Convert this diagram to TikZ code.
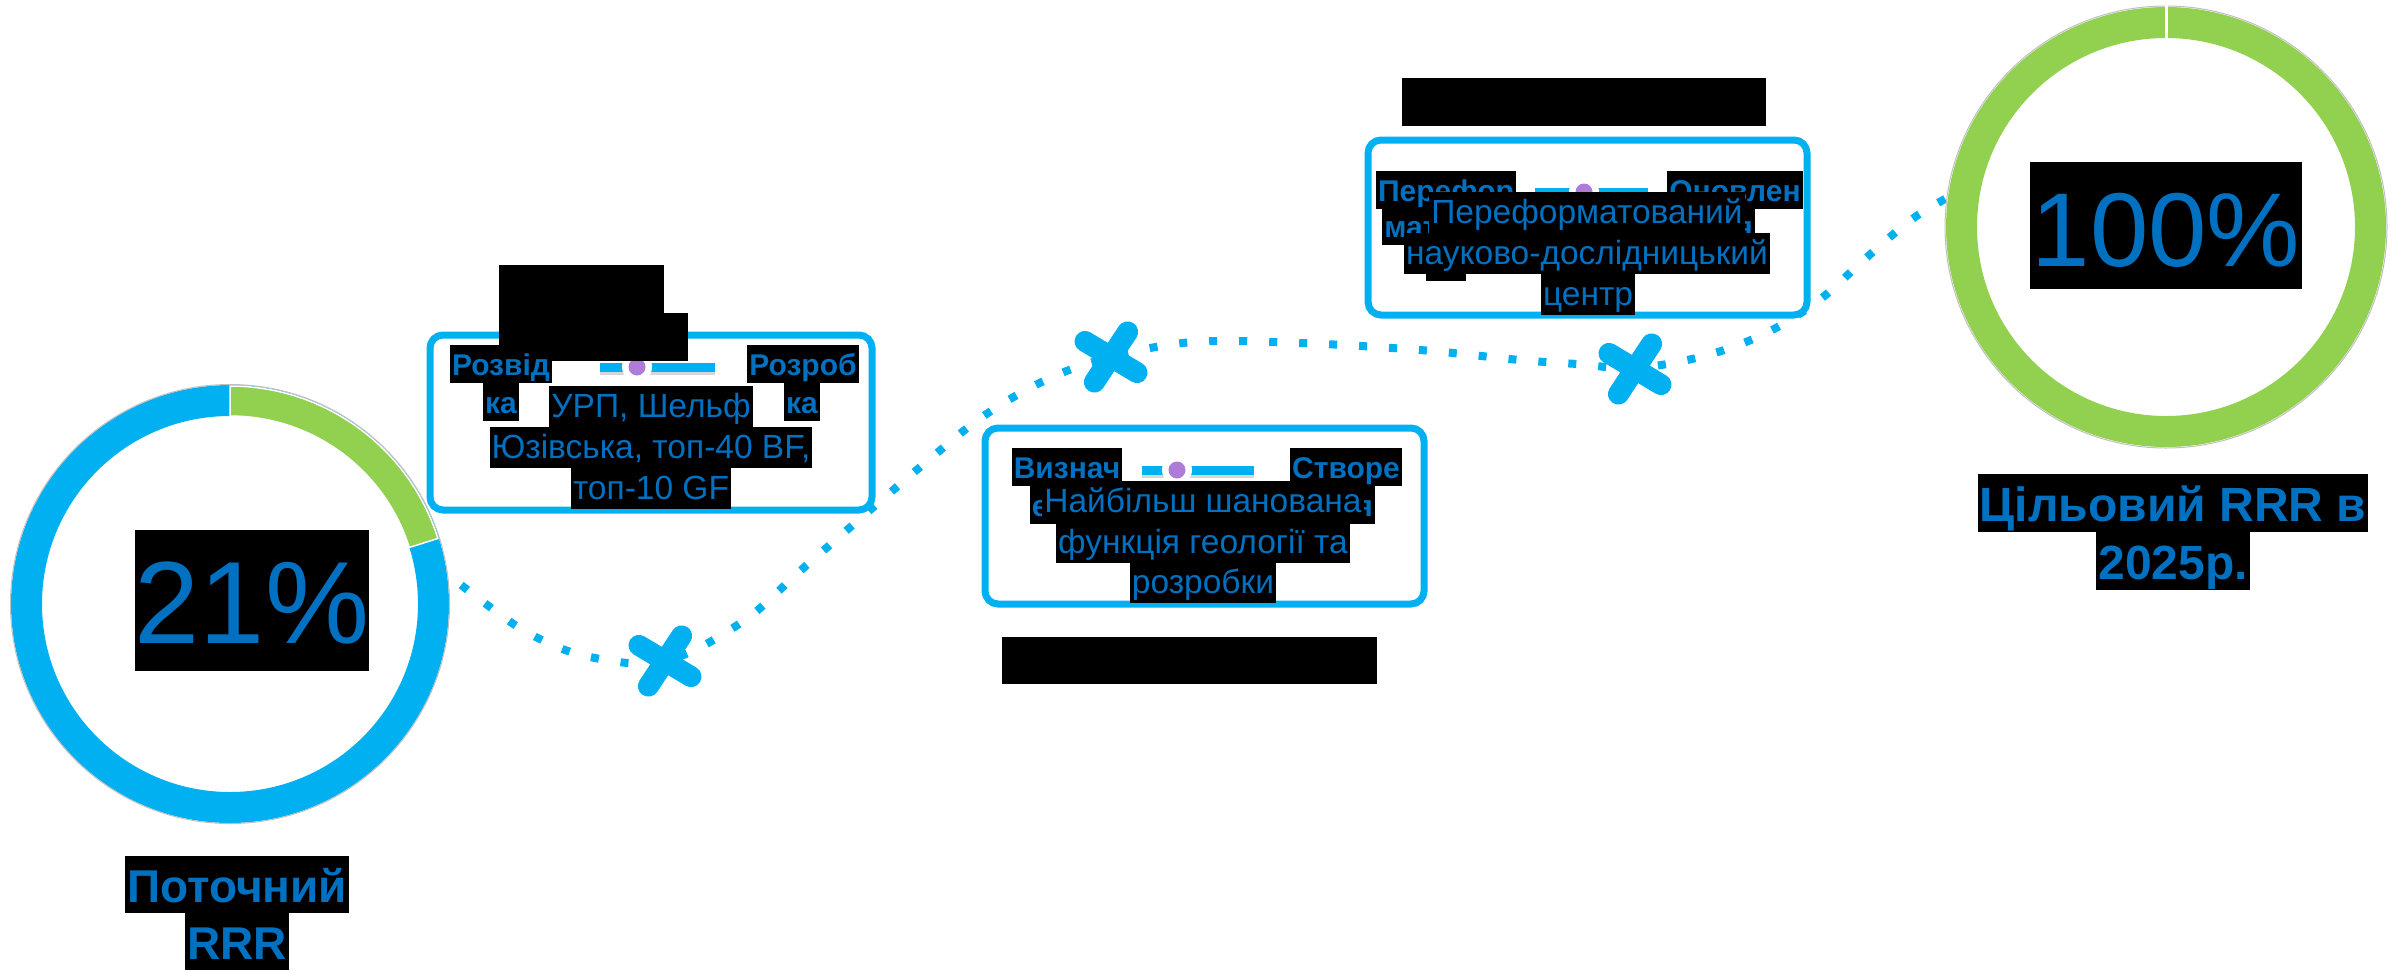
\documentclass[tikz,border=0pt]{standalone}
\usepackage{fontspec}
\setmainfont{Liberation Sans}
\definecolor{cyanline}{HTML}{00B0F0}
\definecolor{textblue}{HTML}{0070C0}
\definecolor{ringgreen}{HTML}{92D050}
\definecolor{knob}{HTML}{AE7BD6}
\definecolor{rimgray}{HTML}{BFBFBF}

% slider track: #1 left end, #2 right end, #3 knob x, #4 y
\newcommand\knobtrack[4]{%
  \draw[trackshadow] (#1,#4+5) -- (#2,#4+5);
  \draw[trackbar] (#1,#4) -- (#2,#4);
  \fill[white] (#3,#4) circle[radius=15pt];
  \fill[knob] (#3,#4) circle[radius=8.5pt];
}

\tikzset{
  hl/.style={fill=black, text=textblue, inner xsep=2pt, inner ysep=0pt, anchor=north},
  body/.style={hl, font=\fontsize{33.5pt}{33.5pt}\selectfont, text height=31pt, text depth=10pt},
  key/.style={hl, font=\bfseries\fontsize{30pt}{30pt}\selectfont, text height=30pt, text depth=8pt},
  caption/.style={hl, font=\bfseries\fontsize{46pt}{46pt}\selectfont, text height=46pt, text depth=11pt},
  captionr/.style={hl, font=\bfseries\fontsize{48pt}{48pt}\selectfont, text height=47pt, text depth=11pt},
  stagebox/.style={draw=cyanline, fill=white, line width=7pt, rounded corners=13pt},
  route/.style={cyanline, line width=8pt, line cap=butt, dash pattern=on 8pt off 22pt},
  xstroke/.style={cyanline, line width=21pt, line cap=round},
  trackbar/.style={cyanline, line width=9pt, line cap=butt},
  trackshadow/.style={black!45, opacity=0.35, line width=6pt},
  crossout/.pic={
    \draw[xstroke] (-26,-15.6) -- (26,15.6);
    \draw[xstroke] (-16.6,25.1) -- (16.6,-25.1);
  }
}

\begin{document}
\begin{tikzpicture}[x=1pt,y=-1pt]
\useasboundingbox (0,0) rectangle (2405,970);
\fill[white] (0,0) rectangle (2405,970);

% dotted route from the current value to the target
\draw[route] plot[smooth, tension=0.6] coordinates {
  (438,566) (478,598) (530,634) (590,657) (665,661) (742,622) (800,571)
  (862,517) (925,463) (985,415) (1050,378) (1112,357) (1193,342) (1300,343)
  (1420,350) (1520,360) (1577,364) (1635,368) (1704,356) (1764,334)
  (1818,301) (1866,258) (1915,217) (1962,190)};

% crossed-out points along the route
\pic (cross1) at (665,661) {crossout};
\pic (cross2) at (1111,357) {crossout};
\pic (cross3) at (1635,369) {crossout};

% current RRR ring
\coordinate (L) at (230,604);
\fill[cyanline, even odd rule] (L) circle[radius=219pt] (L) circle[radius=188pt];
\fill[ringgreen, draw=white, line width=1.5pt]
  (L) ++(90:218pt) arc[start angle=90, end angle=17.5, radius=218pt]
  -- ++(197.5:30pt) arc[start angle=17.5, end angle=90, radius=188pt] -- cycle;
\draw[rimgray, line width=1pt] (L) circle[radius=219.5pt];

% target RRR ring
\coordinate (R) at (2166,227);
\fill[ringgreen, even odd rule] (R) circle[radius=220pt] (R) circle[radius=189pt];
\draw[rimgray, line width=1pt] (R) circle[radius=221pt];
\draw[white, line width=3pt] (2166,5) -- (2166,40);

% stage boxes
\draw[stagebox] (430,335) rectangle (872,510);
\draw[stagebox] (985,428) rectangle (1424,604);
\draw[stagebox] (1368,140) rectangle (1807,315);

% sliders
\knobtrack{600}{715}{637}{367}
\knobtrack{1142}{1254}{1177}{470}
\knobtrack{1535}{1648}{1584}{192}

% stage titles
\fill[black] (499,265) rectangle (664,313);
\fill[black] (499,313) rectangle (688,361);
\fill[black] (1002,637) rectangle (1377,684);
\fill[black] (1402,78) rectangle (1766,126);

% stage 1
\node[key] (s1l1) at (501,345) {Розвід};
\node[key] (s1l2) at (501,383) {ка};
\node[key] (s1r1) at (803,345) {Розроб};
\node[key] (s1r2) at (802,383) {ка};
\node[body] (s1t1) at (651,386) {УРП, Шельф};
\node[body] (s1t2) at (651,427) {Юзівська, топ-40 BF,};
\node[body] (s1t3) at (651,468) {топ-10 GF};

% stage 2
\node[key] (s2l1) at (1067,448) {Визнач};
\node[key] (s2l2) at (1067,486) {ення};
\node[key] (s2r1) at (1346,448) {Створе};
\node[key] (s2r2) at (1346,486) {ння};
\node[body] (s2t1) at (1203,481) {Найбільш шанована};
\node[body] (s2t2) at (1203,522) {функція геології та};
\node[body] (s2t3) at (1203,562) {розробки};

% stage 3
\node[key] (s3l1) at (1446,171) {Перефор};
\node[key] (s3l2) at (1446,207) {матуван};
\node[key] (s3l3) at (1446,243) {ня};
\node[key] (s3r1) at (1735,171) {Оновлен};
\node[key] (s3r2) at (1735,207) {ня};
\node[body] (s3t1) at (1587,192) {Переформатований};
\node[body] (s3t2) at (1587,233) {науково-дослідницький};
\node[body] (s3t3) at (1588,274) {центр};

% ring values and captions
\node[hl, inner xsep=0pt, font=\fontsize{117pt}{117pt}\selectfont,
      text height=113pt, text depth=28pt] (cur) at (252,530) {21\%};
\node[hl, inner xsep=2pt, font=\fontsize{105pt}{105pt}\selectfont,
      text height=104pt, text depth=23pt] (tgt) at (2166,162) {100\%};
\node[caption] (curcap1) at (237,856) {Поточний};
\node[caption] (curcap2) at (237,913) {RRR};
\node[captionr] (tgtcap1) at (2173,474) {Цільовий RRR в};
\node[captionr] (tgtcap2) at (2173,532) {2025р.};
\end{tikzpicture}
\end{document}
